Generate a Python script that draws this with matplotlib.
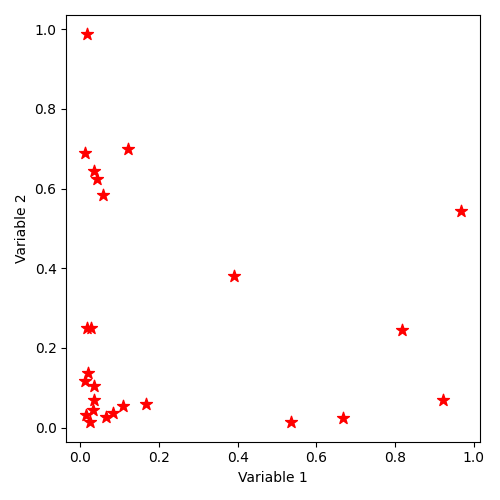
import matplotlib
matplotlib.use("Agg")
import matplotlib.pyplot as plt

# valeurs
var1 = [0.018, 0.012, 0.122, 0.034, 0.043, 0.057, 0.390, 0.969, 0.016, 0.027,
        0.819, 0.019, 0.012, 0.034, 0.034, 0.923, 0.166, 0.108, 0.082, 0.066,
        0.031, 0.014, 0.024, 0.536, 0.668]
var2 = [0.987, 0.689, 0.700, 0.643, 0.624, 0.584, 0.380, 0.544, 0.249, 0.249,
        0.244, 0.137, 0.116, 0.103, 0.068, 0.068, 0.060, 0.055, 0.036, 0.026,
        0.043, 0.032, 0.014, 0.013, 0.023]

fig, ax = plt.subplots(figsize=(5, 5), dpi=100)
ax.scatter(var1, var2, marker='*', s=80, color='red')
ax.set_xlabel('Variable 1')
ax.set_ylabel('Variable 2')
fig.tight_layout()
fig.savefig('out.png')
